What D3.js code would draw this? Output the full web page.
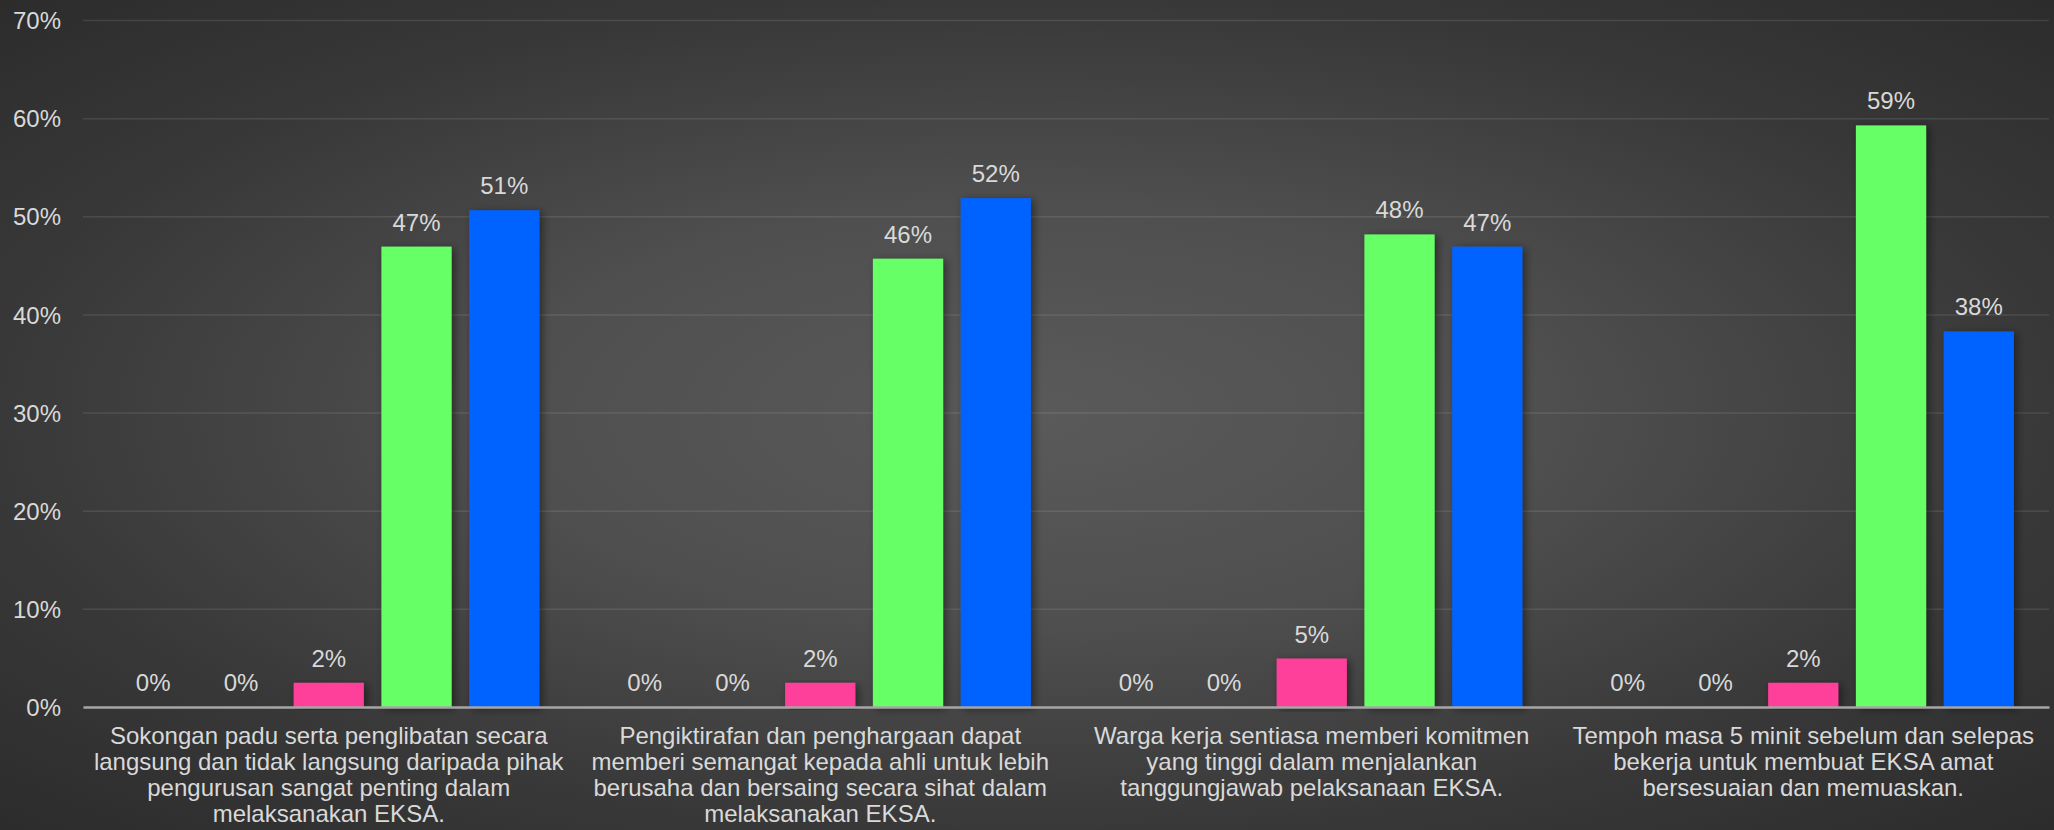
<!DOCTYPE html>
<html>
<head>
<meta charset="utf-8">
<script src="https://cdnjs.cloudflare.com/ajax/libs/d3/7.8.5/d3.min.js"></script>
<style>
  body { margin: 0; background: #2d2d2d; }
  text { font-family: "Liberation Sans", Arial, sans-serif; fill: #d9d9d9; }
</style>
</head>
<body>
<div id="chart"></div>
<script>
// chart data
var categories = ["q1", "q2", "q3", "q4"];
var categoryLines = [
  ["Sokongan padu serta penglibatan secara", "langsung dan tidak langsung daripada pihak", "pengurusan sangat penting dalam", "melaksanakan EKSA."],
  ["Pengiktirafan dan penghargaan dapat", "memberi semangat kepada ahli untuk lebih", "berusaha dan bersaing secara sihat dalam", "melaksanakan EKSA."],
  ["Warga kerja sentiasa memberi komitmen", "yang tinggi dalam menjalankan", "tanggungjawab pelaksanaan EKSA."],
  ["Tempoh masa 5 minit sebelum dan selepas", "bekerja untuk membuat EKSA amat", "bersesuaian dan memuaskan."]
];
var seriesNames = ["Sangat Tidak Setuju", "Tidak Setuju", "Kurang Setuju", "Setuju", "Sangat Setuju"];
var seriesColors = ["#ff0000", "#ffc000", "#ff3f9a", "#66ff66", "#0062ff"];
// one array per category, values for each series
var q1Values = [0, 0, 0.0247, 0.4691, 0.5062];
var q2Values = [0, 0, 0.0247, 0.4568, 0.5185];
var q3Values = [0, 0, 0.0494, 0.4815, 0.4691];
var q4Values = [0, 0, 0.0247, 0.5926, 0.3827];
var yTicks = [0, 0.1, 0.2, 0.3, 0.4, 0.5, 0.6, 0.7];

var allValues = [q1Values, q2Values, q3Values, q4Values];

var svgWidth = 2054;
var svgHeight = 830;

var margin = { top: 20, right: 5, bottom: 123, left: 83 };
var width = svgWidth - margin.left - margin.right;
var height = svgHeight - margin.top - margin.bottom;

var svg = d3.select("#chart")
  .append("svg")
  .attr("width", svgWidth)
  .attr("height", svgHeight);

var defs = svg.append("defs");

// radial background like the office theme
var grad = defs.append("radialGradient")
  .attr("id", "bg")
  .attr("cx", 0.5)
  .attr("cy", 0.5)
  .attr("r", 0.72);
grad.append("stop").attr("offset", 0).attr("stop-color", "#5a5a5a");
grad.append("stop").attr("offset", 0.35).attr("stop-color", "#4f4f4f");
grad.append("stop").attr("offset", 0.7).attr("stop-color", "#383838");
grad.append("stop").attr("offset", 1).attr("stop-color", "#2b2b2b");

// soft shadow behind bars
var shadow = defs.append("filter")
  .attr("id", "shadow")
  .attr("x", "-30%").attr("y", "-10%")
  .attr("width", "160%").attr("height", "120%");
shadow.append("feDropShadow")
  .attr("dx", 3)
  .attr("dy", 2)
  .attr("stdDeviation", 4)
  .attr("flood-color", "#000")
  .attr("flood-opacity", 0.45);

svg.append("rect")
  .attr("width", svgWidth)
  .attr("height", svgHeight)
  .attr("fill", "url(#bg)");

var chartGroup = svg.append("g")
  .attr("transform", `translate(${margin.left}, ${margin.top})`);

// scales
var x0 = d3.scaleBand()
  .domain(categories)
  .range([0, width]);

var x1 = d3.scaleBand()
  .domain(seriesNames)
  .range([0, x0.bandwidth()])
  .paddingInner(0.2)
  .paddingOuter(0.4);

var y = d3.scaleLinear()
  .domain([0, 0.7])
  .range([height, 0]);

// gridlines + y labels
var leftAxis = d3.axisLeft(y)
  .tickValues(yTicks)
  .tickSize(-width)
  .tickPadding(22)
  .tickFormat(d3.format(".0%"));

var yAxis = chartGroup.append("g").call(leftAxis);
yAxis.select(".domain").remove();
yAxis.selectAll("line")
  .attr("stroke", "#ffffff")
  .attr("stroke-opacity", 0.1)
  .attr("stroke-width", 1.5);
yAxis.selectAll("text")
  .attr("fill", "#d9d9d9")
  .style("font-size", "24px")
  .attr("dy", "0.36em");

// bars
var groups = chartGroup.selectAll(".cat")
  .data(categories)
  .enter()
  .append("g")
  .attr("class", "cat")
  .attr("transform", d => `translate(${x0(d)}, 0)`);

var cells = groups.selectAll("g")
  .data((d, i) => allValues[i].map((v, j) => ({ name: seriesNames[j], value: v, color: seriesColors[j] })))
  .enter()
  .append("g");

cells.filter(d => d.value > 0)
  .append("rect")
  .attr("x", d => x1(d.name))
  .attr("y", d => y(d.value))
  .attr("width", x1.bandwidth())
  .attr("height", d => height - y(d.value))
  .attr("fill", d => d.color)
  .attr("filter", "url(#shadow)");

cells.append("text")
  .attr("text-anchor", "middle")
  .attr("x", d => x1(d.name) + x1.bandwidth() / 2)
  .attr("y", d => y(d.value) - 16)
  .style("font-size", "24px")
  .text(d => Math.round(d.value * 100) + "%");

// x axis line and category labels
var bottomAxis = d3.axisBottom(x0)
  .tickSize(0)
  .tickFormat("");

var xAxis = chartGroup.append("g")
  .attr("transform", `translate(0, ${height})`)
  .call(bottomAxis);
xAxis.select(".domain")
  .attr("stroke", "#a6a6a6")
  .attr("stroke-width", 2.4);

var catLabels = chartGroup.append("g")
  .attr("transform", `translate(0, ${height})`)
  .selectAll("text")
  .data(categories)
  .enter()
  .append("text")
  .attr("text-anchor", "middle")
  .style("font-size", "24px")
  .attr("x", d => x0(d) + x0.bandwidth() / 2)
  .attr("y", 37);

catLabels.selectAll("tspan")
  .data((d, i) => categoryLines[i])
  .enter()
  .append("tspan")
  .attr("x", function() { return d3.select(this.parentNode).attr("x"); })
  .attr("dy", (d, i) => i === 0 ? 0 : 26)
  .text(d => d);
</script>
</body>
</html>
